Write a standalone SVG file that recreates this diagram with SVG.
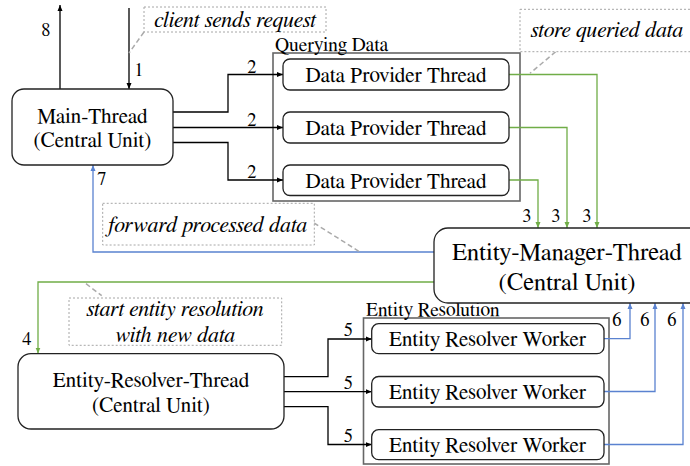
<svg xmlns="http://www.w3.org/2000/svg" width="690" height="466" viewBox="0 0 690 466" font-family="FreeSerif, 'Liberation Serif', serif">
<style>
text{font-family:FreeSerif,'Liberation Serif',serif;fill:#000}
.node{fill:#fff;stroke:#222;stroke-width:1.3}
.cont{fill:none;stroke:#666;stroke-width:1.6}
.t{font-size:21.2px;text-anchor:middle}
.big{font-size:24.6px;text-anchor:middle}
.lbl{font-size:19.5px}
.num{font-size:18.5px;text-anchor:middle}
.it{font-size:22px;font-style:italic;text-anchor:middle}
.call{fill:#fff;stroke:#a6a6a6;stroke-width:1;stroke-dasharray:2 2}
.lead{fill:none;stroke:#aaa;stroke-width:1.5;stroke-dasharray:5 3}
.k{fill:none;stroke:#000;stroke-width:1.3}
.g{fill:none;stroke:#70ad47;stroke-width:1.3}
.b{fill:none;stroke:#5a82d0;stroke-width:1.3}
</style>
<defs>
<marker id="ak" markerWidth="7" markerHeight="6" refX="6" refY="3" orient="auto" markerUnits="userSpaceOnUse"><path d="M0,0.5 L6,3 L0,5.5 z" fill="#000"/></marker>
<marker id="ag" markerWidth="7" markerHeight="6" refX="6" refY="3" orient="auto" markerUnits="userSpaceOnUse"><path d="M0,0.5 L6,3 L0,5.5 z" fill="#70ad47"/></marker>
<marker id="ab" markerWidth="7" markerHeight="6" refX="6" refY="3" orient="auto" markerUnits="userSpaceOnUse"><path d="M0,0.5 L6,3 L0,5.5 z" fill="#5a82d0"/></marker>
</defs>

<g id="querying-data">
<rect class="cont" x="273" y="53" width="247" height="148"/>
<text class="lbl" x="275" y="51">Querying Data</text>
</g>
<g id="entity-resolution">
<rect class="cont" x="363.5" y="318" width="245.5" height="146"/>
<text class="lbl" x="366" y="316">Entity Resolution</text>
</g>

<g id="connectors">
<path class="k" d="M60,89 V5" marker-end="url(#ak)"/>
<path class="k" d="M129,8 V89" marker-end="url(#ak)"/>
<path class="k" d="M173,112 H228 V74.5 H283" marker-end="url(#ak)"/>
<path class="k" d="M173,127.5 H283" marker-end="url(#ak)"/>
<path class="k" d="M173,142.5 H228 V180 H283" marker-end="url(#ak)"/>
<path class="g" d="M509,74.5 H597 V228" marker-end="url(#ag)"/>
<path class="g" d="M509,127.5 H567 V228" marker-end="url(#ag)"/>
<path class="g" d="M509,180 H538 V228" marker-end="url(#ag)"/>
<path class="b" d="M434,252 H93 V165" marker-end="url(#ab)"/>
<path class="g" d="M434,282 H38 V353.5" marker-end="url(#ag)"/>
<path class="k" d="M284,376.7 H328 V339 H371.7" marker-end="url(#ak)"/>
<path class="k" d="M284,391.7 H371.7" marker-end="url(#ak)"/>
<path class="k" d="M284,406.7 H328 V444.5 H371.7" marker-end="url(#ak)"/>
<path class="b" d="M604,338.7 H630 V303" marker-end="url(#ab)"/>
<path class="b" d="M604,391.5 H655 V303" marker-end="url(#ab)"/>
<path class="b" d="M604,444.5 H683 V303" marker-end="url(#ab)"/>
<text class="num" x="46" y="36">8</text>
<text class="num" x="139" y="76">1</text>
<text class="num" x="252" y="73">2</text>
<text class="num" x="252" y="126">2</text>
<text class="num" x="252" y="178">2</text>
<text class="num" x="527" y="222">3</text>
<text class="num" x="556" y="222">3</text>
<text class="num" x="587" y="222">3</text>
<text class="num" x="102" y="185">7</text>
<text class="num" x="27" y="345">4</text>
<text class="num" x="348.5" y="336">5</text>
<text class="num" x="348.5" y="389">5</text>
<text class="num" x="348.5" y="442">5</text>
<text class="num" x="617" y="326">6</text>
<text class="num" x="645" y="326">6</text>
<text class="num" x="672" y="326">6</text>
</g>

<g id="callout-client">
<path class="lead" d="M144,32 L129,53"/>
<rect class="call" x="144" y="7" width="182" height="25"/>
<text class="it" x="235" y="26.5">client sends request</text>
</g>
<g id="callout-store">
<path class="lead" d="M555.7,51.7 L530,73.3"/>
<rect class="call" x="520" y="9.3" width="172" height="42.4"/>
<text class="it" x="607" y="36.5">store queried data</text>
</g>
<g id="callout-forward">
<path class="lead" d="M314,223 L360,252"/>
<rect class="call" x="102.7" y="203.3" width="211.6" height="41.7"/>
<text class="it" x="207" y="231.5">forward processed data</text>
</g>
<g id="callout-start">
<path class="lead" d="M86,283.7 L101.7,295.7"/>
<rect class="call" x="69" y="298" width="212.7" height="47.3"/>
<text class="it" x="175" y="316.3">start entity resolution</text>
<text class="it" x="175" y="342">with new data</text>
</g>

<g id="main-thread">
<rect class="node" x="12" y="89" width="161" height="76" rx="12"/>
<text class="t" x="92.5" y="123">Main-Thread</text>
<text class="t" x="92.5" y="147">(Central Unit)</text>
</g>
<g id="dp1">
<rect class="node" x="283" y="59" width="226" height="31" rx="7"/>
<text class="t" x="396" y="81.5">Data Provider Thread</text>
</g>
<g id="dp2">
<rect class="node" x="283" y="112" width="226" height="31" rx="7"/>
<text class="t" x="396" y="134.5">Data Provider Thread</text>
</g>
<g id="dp3">
<rect class="node" x="283" y="165" width="226" height="30.5" rx="7"/>
<text class="t" x="396" y="187.5">Data Provider Thread</text>
</g>
<g id="entity-manager">
<rect class="node" x="434" y="228" width="272" height="75" rx="14"/>
<text class="big" x="567" y="260">Entity-Manager-Thread</text>
<text class="big" x="567" y="290">(Central Unit)</text>
</g>
<g id="entity-resolver">
<rect class="node" x="18" y="353.7" width="266" height="75.3" rx="13"/>
<text class="t" x="151" y="387">Entity-Resolver-Thread</text>
<text class="t" x="151" y="412">(Central Unit)</text>
</g>
<g id="worker1">
<rect class="node" x="371.7" y="323.7" width="232.3" height="30" rx="7"/>
<text class="t" x="487.5" y="346">Entity Resolver Worker</text>
</g>
<g id="worker2">
<rect class="node" x="371.7" y="376.5" width="232.3" height="30.5" rx="7"/>
<text class="t" x="487.5" y="399">Entity Resolver Worker</text>
</g>
<g id="worker3">
<rect class="node" x="371.7" y="429.7" width="232.3" height="30" rx="7"/>
<text class="t" x="487.5" y="452">Entity Resolver Worker</text>
</g>
</svg>
